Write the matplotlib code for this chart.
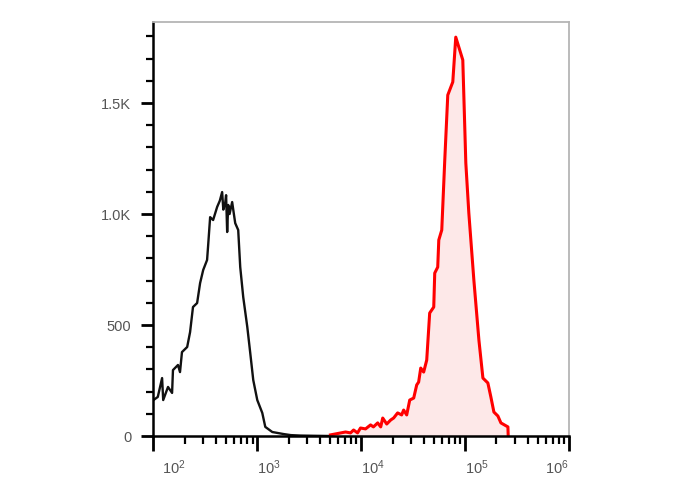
import numpy as np
import matplotlib
matplotlib.use("Agg")
import matplotlib.pyplot as plt
from matplotlib.ticker import MultipleLocator, LogLocator, NullFormatter
import matplotlib.transforms as mtransforms

plt.rcParams['font.family'] = ['Liberation Sans', 'DejaVu Sans']
plt.rcParams['mathtext.fontset'] = 'custom'
plt.rcParams['mathtext.rm'] = 'Liberation Sans'

# control (unstained) histogram, black
ctrl_x = [100, 110, 121, 124, 138, 151, 154, 172, 180, 188, 211, 225, 240, 263,
          281, 301, 328, 336, 351, 375, 410, 435, 458, 470, 490, 500, 512, 524,
          540, 572, 590, 612, 654, 684, 731, 800, 854, 913, 998, 1115, 1192,
          1392, 1778, 2100, 2600, 3500, 5000]
ctrl_y = [162, 176, 261, 162, 221, 194, 297, 320, 288, 378, 401, 468, 581, 599,
          689, 748, 793, 860, 986, 973, 1032, 1060, 1099, 1020, 1050, 1085, 919,
          1041, 1000, 1054, 1010, 959, 928, 761, 626, 491, 374, 252, 162, 104,
          41, 18, 9, 4, 2, 1, 0]

# stained sample histogram, red
stain_x = [5058, 7060, 7890, 8440, 9210, 9840, 11000, 12300, 13100, 14400,
           15400, 16100, 17600, 19200, 20500, 22400, 24500, 25600, 27400, 29300,
           32000, 34200, 35700, 37400, 39900, 42700, 45600, 49900, 51000, 54500,
           55800, 59600, 63700, 68100, 76100, 81300, 95000, 101600, 108600,
           121400, 135800, 148400, 165600, 177000, 189300, 206900, 221200,
           258300, 260000]
stain_y = [5, 18, 14, 27, 14, 36, 32, 50, 41, 59, 41, 81, 54, 72, 81, 104, 95,
           117, 95, 162, 171, 230, 243, 306, 288, 342, 554, 581, 734, 761, 883,
           928, 1243, 1536, 1595, 1797, 1694, 1230, 1005, 703, 432, 261, 239, 176,
           108, 90, 59, 41, 0]

y_ticks = [0, 500, 1000, 1500]
y_labels = ['0', '500', '1.0K', '1.5K']
x_ticks = [1e2, 1e3, 1e4, 1e5, 1e6]
x_labels = [r'$\mathregular{10^{2}}$', r'$\mathregular{10^{3}}$',
            r'$\mathregular{10^{4}}$', r'$\mathregular{10^{5}}$',
            r'$\mathregular{10^{6}}$']

fig = plt.figure(figsize=(6.88, 4.90), dpi=100)
ax = fig.add_axes([0.2231, 0.1102, 0.827 - 0.2231, 0.955 - 0.1102])

ax.fill_between(stain_x, stain_y, 0, color='#fde8e8', lw=0)
ax.plot(ctrl_x, ctrl_y, color='#111111', lw=1.7)
ax.plot(stain_x, stain_y, color='#ff0000', lw=2.2)

ax.set_xscale('log')
ax.set_xlim(100, 1e6)
ax.set_ylim(0, 1865)

ax.set_xticks(x_ticks)
ax.set_xticklabels(x_labels)
ax.xaxis.set_minor_locator(LogLocator(base=10, subs=np.arange(2, 10)))
ax.xaxis.set_minor_formatter(NullFormatter())
ax.set_yticks(y_ticks)
ax.set_yticklabels(y_labels)
ax.yaxis.set_minor_locator(MultipleLocator(100))

ax.tick_params(axis='both', which='major', direction='out', color='black',
               labelcolor='#555555', labelsize=10.5, width=2)
ax.tick_params(axis='x', which='major', length=11, pad=5)
ax.tick_params(axis='y', which='major', length=9, pad=7)
ax.tick_params(axis='x', which='minor', length=6, width=1.6, color='black')
ax.tick_params(axis='y', which='minor', length=5, width=1.6, color='black')

for i, lab in enumerate(ax.get_xticklabels()):
    if i == len(x_ticks) - 1:
        lab.set_horizontalalignment('right')
    else:
        lab.set_horizontalalignment('left')
        if i == 0:
            lab.set_transform(lab.get_transform() +
                              mtransforms.ScaledTranslation(6 / 72, 0, fig.dpi_scale_trans))

for side in ['left', 'bottom']:
    ax.spines[side].set_color('black')
    ax.spines[side].set_linewidth(1.8)
for side in ['top', 'right']:
    ax.spines[side].set_color('#b5b5b5')
    ax.spines[side].set_linewidth(1.3)

fig.savefig('out.png', dpi=100)
